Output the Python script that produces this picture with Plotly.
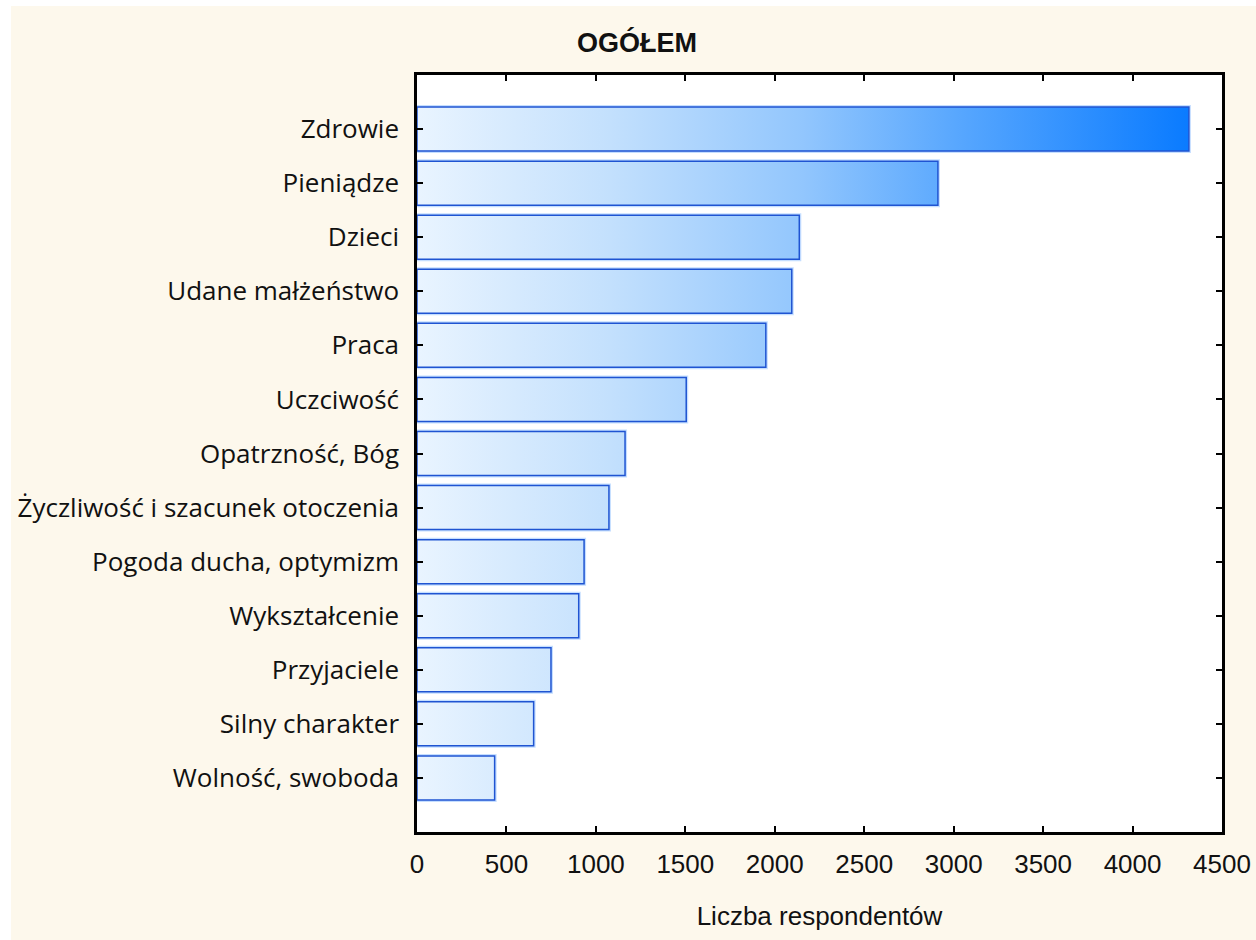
import plotly.graph_objects as go

categories = ["Zdrowie", "Pieniądze", "Dzieci", "Udane małżeństwo", "Praca", "Uczciwość",
              "Opatrzność, Bóg", "Życzliwość i szacunek otoczenia", "Pogoda ducha, optymizm",
              "Wykształcenie", "Przyjaciele", "Silny charakter", "Wolność, swoboda"]
values = [4315, 2912, 2137, 2095, 1950, 1505, 1163, 1073, 934, 904, 749, 652, 434]
x_ticks = [0, 500, 1000, 1500, 2000, 2500, 3000, 3500, 4000, 4500]

W, H = 1256, 940
L, R, T, B = 417, 1222, 75, 832
half = 0.407
vmax = max(values)

grad = [[0.0, "#e9f4ff"], [0.25, "#c3e0fd"], [0.5, "#92c6fd"], [0.7, "#58a7fe"], [1.0, "#0a7bff"]]

fig = go.Figure()
for i, (c, v) in enumerate(zip(categories, values)):
    xs = [0, v, v, 0, 0]
    ys = [i - half, i - half, i + half, i + half, i - half]
    fig.add_trace(go.Scatter(x=xs, y=ys, mode="lines",
                             line=dict(color="rgba(90,160,255,0.35)", width=4),
                             hoverinfo="skip", showlegend=False))
    fig.add_trace(go.Scatter(x=xs, y=ys, mode="lines", fill="toself",
                             fillgradient=dict(type="horizontal", colorscale=grad, start=0, stop=vmax),
                             line=dict(color="#1f54d2", width=1.5),
                             name=c, showlegend=False, hoverinfo="x+name"))

def fx(px):
    return (px - L) / (R - L)

def fy(py):
    return (B - py) / (B - T)

fig.update_layout(
    width=W, height=H, autosize=False,
    margin=dict(l=L, r=W - R, t=T, b=H - B, pad=0, autoexpand=False),
    paper_bgcolor="#fdf8ec",
    plot_bgcolor="white",
    title=dict(text="<b>OGÓŁEM</b>", font=dict(family="Liberation Sans, Arial", size=27, color="#111"),
               x=637 / W, xref="container", xanchor="center", y=1 - 43 / H, yref="container", yanchor="middle"),
    font=dict(family="Liberation Sans, Arial", color="#111"),
    shapes=[
        dict(type="rect", xref="paper", yref="paper", x0=fx(0), x1=fx(11), y0=fy(H), y1=fy(0),
             fillcolor="white", line=dict(width=0), layer="below"),
        dict(type="rect", xref="paper", yref="paper", x0=fx(0), x1=fx(W), y0=fy(6), y1=fy(0),
             fillcolor="white", line=dict(width=0), layer="below"),
    ],
)

fig.update_xaxes(range=[0, 4500], tickvals=x_ticks, ticktext=[str(t) for t in x_ticks],
                 automargin=False,
                 ticks="inside", ticklen=6, tickwidth=2, tickcolor="black",
                 showline=True, linecolor="black", linewidth=2.5, mirror="allticks",
                 showgrid=False, zeroline=False, ticklabelstandoff=7,
                 tickfont=dict(family="Liberation Sans, Arial", size=26, color="#111"),
                 title=dict(text="Liczba respondentów", standoff=29,
                            font=dict(family="Liberation Sans, Arial", size=26, color="#111")))
fig.update_yaxes(range=[13, -1], tickvals=list(range(len(categories))), ticktext=categories,
                 automargin=False,
                 ticks="inside", ticklen=6, tickwidth=2, tickcolor="black",
                 showline=True, linecolor="black", linewidth=2.5, mirror="allticks",
                 showgrid=False, zeroline=False, ticklabelstandoff=10,
                 tickfont=dict(family="Open Sans, Noto Sans", size=26, color="#111"))

fig.write_html("out.html", config={"displayModeBar": False},
               post_script="document.body.style.margin='0';document.body.style.overflow='hidden';")
